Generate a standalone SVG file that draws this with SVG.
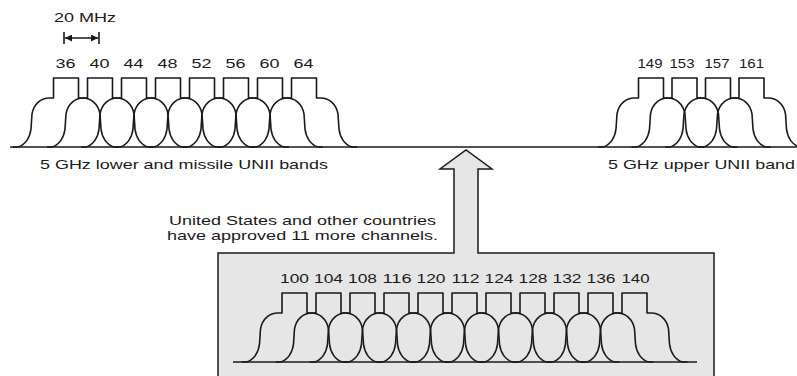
<svg xmlns="http://www.w3.org/2000/svg" xmlns:xlink="http://www.w3.org/1999/xlink" width="797" height="376" viewBox="0 0 797 376">
<style>
  .ln { stroke:#1a1a1a; stroke-width:1.6; fill:none; stroke-linejoin:round; }
  .t { font-family:"Liberation Sans", Arial, sans-serif; font-size:13.5px; fill:#1a1a1a; }
  .c { text-anchor:middle; }
</style>
<defs>
  <path id="ch" class="ln" d="M -53,69 L -48,69 C -41,67 -36,60 -35,51 L -34,36 C -32,25 -24,20 -17,20 L -12.5,20 L -12.5,0 L 12.5,0 L 12.5,20 L 17,20 C 24,20 32,25 34,36 L 35,51 C 36,60 41,67 48,69 L 53,69"/>
  <marker id="ah" viewBox="0 0 10 10" refX="10" refY="5" markerWidth="8" markerHeight="7" markerUnits="userSpaceOnUse" orient="auto-start-reverse">
    <path d="M0,0 L10,5 L0,10 Z" fill="#1a1a1a"/>
  </marker>
</defs>
<rect width="797" height="376" fill="#fff"/>

<g id="new-channels">
  <path d="M 218,253 L 454,253 L 454,169 L 440,169 L 466,150 L 492,169 L 478,169 L 478,253 L 714,253 L 714,380 L 218,380 Z" fill="#e6e6e6" stroke="#1a1a1a" stroke-width="1.5" stroke-linejoin="miter"/>
  <line class="ln" x1="233" y1="362" x2="697" y2="362"/>
  <use href="#ch" x="294.5" y="293"/>
  <use href="#ch" x="328.5" y="293"/>
  <use href="#ch" x="362.5" y="293"/>
  <use href="#ch" x="396.5" y="293"/>
  <use href="#ch" x="430.5" y="293"/>
  <use href="#ch" x="464.5" y="293"/>
  <use href="#ch" x="498.5" y="293"/>
  <use href="#ch" x="532.5" y="293"/>
  <use href="#ch" x="566.5" y="293"/>
  <use href="#ch" x="600.5" y="293"/>
  <use href="#ch" x="634.5" y="293"/>
  <text class="t c" x="294.5" y="283" textLength="29" lengthAdjust="spacingAndGlyphs">100</text>
  <text class="t c" x="328.5" y="283" textLength="29" lengthAdjust="spacingAndGlyphs">104</text>
  <text class="t c" x="362.5" y="283" textLength="29" lengthAdjust="spacingAndGlyphs">108</text>
  <text class="t c" x="397" y="283" textLength="29" lengthAdjust="spacingAndGlyphs">116</text>
  <text class="t c" x="431" y="283" textLength="29" lengthAdjust="spacingAndGlyphs">120</text>
  <text class="t c" x="465.5" y="283" textLength="28" lengthAdjust="spacingAndGlyphs">112</text>
  <text class="t c" x="499" y="283" textLength="29" lengthAdjust="spacingAndGlyphs">124</text>
  <text class="t c" x="533" y="283" textLength="29" lengthAdjust="spacingAndGlyphs">128</text>
  <text class="t c" x="567" y="283" textLength="29" lengthAdjust="spacingAndGlyphs">132</text>
  <text class="t c" x="601" y="283" textLength="29" lengthAdjust="spacingAndGlyphs">136</text>
  <text class="t c" x="635.5" y="283" textLength="28" lengthAdjust="spacingAndGlyphs">140</text>
</g>

<g id="note">
  <text class="t" x="169" y="225" textLength="267" lengthAdjust="spacingAndGlyphs">United States and other countries</text>
  <text class="t" x="167" y="240" textLength="271" lengthAdjust="spacingAndGlyphs">have approved 11 more channels.</text>
</g>

<g id="spectrum-line">
  <line class="ln" x1="10" y1="147" x2="797" y2="147"/>
</g>

<g id="lower-band">
  <use href="#ch" x="66" y="78"/>
  <use href="#ch" x="100" y="78"/>
  <use href="#ch" x="134" y="78"/>
  <use href="#ch" x="168" y="78"/>
  <use href="#ch" x="202" y="78"/>
  <use href="#ch" x="236" y="78"/>
  <use href="#ch" x="270" y="78"/>
  <use href="#ch" x="304" y="78"/>
  <text class="t c" x="65.5" y="68" textLength="20" lengthAdjust="spacingAndGlyphs">36</text>
  <text class="t c" x="99.5" y="68" textLength="20" lengthAdjust="spacingAndGlyphs">40</text>
  <text class="t c" x="133.5" y="68" textLength="20" lengthAdjust="spacingAndGlyphs">44</text>
  <text class="t c" x="167.5" y="68" textLength="20" lengthAdjust="spacingAndGlyphs">48</text>
  <text class="t c" x="201.5" y="68" textLength="20" lengthAdjust="spacingAndGlyphs">52</text>
  <text class="t c" x="235.5" y="68" textLength="20" lengthAdjust="spacingAndGlyphs">56</text>
  <text class="t c" x="269.5" y="68" textLength="20" lengthAdjust="spacingAndGlyphs">60</text>
  <text class="t c" x="303.5" y="68" textLength="20" lengthAdjust="spacingAndGlyphs">64</text>
  <text class="t" x="54" y="22" textLength="62" lengthAdjust="spacingAndGlyphs">20 MHz</text>
  <text class="t" x="40" y="169" textLength="288" lengthAdjust="spacingAndGlyphs">5 GHz lower and missile UNII bands</text>
</g>

<g id="upper-band">
  <use href="#ch" x="651" y="78"/>
  <use href="#ch" x="684.5" y="78"/>
  <use href="#ch" x="718" y="78"/>
  <use href="#ch" x="751.5" y="78"/>
  <text class="t c" x="650" y="68" textLength="25" lengthAdjust="spacingAndGlyphs">149</text>
  <text class="t c" x="682" y="68" textLength="25" lengthAdjust="spacingAndGlyphs">153</text>
  <text class="t c" x="717" y="68" textLength="25" lengthAdjust="spacingAndGlyphs">157</text>
  <text class="t c" x="751.5" y="68" textLength="25" lengthAdjust="spacingAndGlyphs">161</text>
  <text class="t" x="608" y="169" textLength="187" lengthAdjust="spacingAndGlyphs">5 GHz upper UNII band</text>
</g>

<g id="connectors">
  <line class="ln" x1="64" y1="32" x2="64" y2="44"/>
  <line class="ln" x1="99" y1="32" x2="99" y2="44"/>
  <line class="ln" x1="65" y1="38" x2="98" y2="38" marker-start="url(#ah)" marker-end="url(#ah)"/>
</g>
</svg>
